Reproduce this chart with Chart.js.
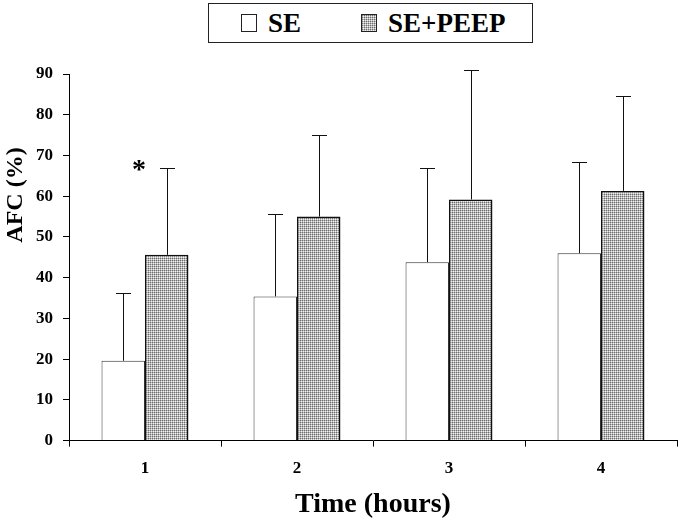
<!DOCTYPE html>
<html>
<head>
<meta charset="utf-8">
<script src="https://cdn.jsdelivr.net/npm/chart.js@4.4.1/dist/chart.umd.min.js"></script>
<style>
  body { margin: 0; background: #fff; }
  #wrap { position: relative; width: 685px; height: 525px; }
  #legend {
    position: absolute; left: 208px; top: 3px; width: 325px; height: 40px;
    box-sizing: border-box; border: 1px solid #222; background: #fff;
    display: flex; align-items: center;
    font: bold 27px "Liberation Serif", "DejaVu Serif", serif; color: #000;
  }
  #legend .sw { width: 16px; height: 18px; box-sizing: border-box; border: 1px solid #222; background: #fff; }
  #legend .txt { margin-left: 11px; line-height: 1; }
</style>
</head>
<body>
<div id="wrap">
  <canvas id="chart" width="685" height="525"></canvas>
  <div id="legend">
    <span class="sw" style="margin-left:32px"></span><span class="txt">SE</span>
    <span class="sw" id="swPeep" style="margin-left:60px"></span><span class="txt">SE+PEEP</span>
  </div>
</div>
<script>
// 数据
const categories = ['1', '2', '3', '4'];
const seMean = [19.6, 35.4, 43.8, 46.0];
const seSd = [16.7, 20.2, 23.1, 22.5];
const peepMean = [45.6, 55.0, 59.2, 61.3];
const peepSd = [21.3, 20.0, 31.8, 23.3];
const significance = ['*', '', '', ''];
const yTicks = [0, 10, 20, 30, 40, 50, 60, 70, 80, 90];

const FONT = '"Liberation Serif", "DejaVu Serif", serif';

// 点状填充
function makeStipple() {
    const c = document.createElement('canvas');
    c.width = 2; c.height = 2;
    const g = c.getContext('2d');
    g.fillStyle = '#f0f0f0'; g.fillRect(0, 0, 2, 2);
    g.fillStyle = '#b8b8b8'; g.fillRect(1, 0, 1, 1); g.fillRect(0, 1, 1, 1);
    g.fillStyle = '#6e6e6e'; g.fillRect(0, 0, 1, 1);
    return c;
}
const stippleCanvas = makeStipple();
const ctx = document.getElementById('chart').getContext('2d');
const stipple = ctx.createPattern(stippleCanvas, 'repeat');
document.getElementById('swPeep').style.background = 'url(' + stippleCanvas.toDataURL() + ')';

// 误差线 + 星号 + 纵轴标题
const extrasPlugin = {
    id: 'extras',
    afterDatasetsDraw(chart) {
        const g = chart.ctx;
        const y = chart.scales.y;
        const x = chart.scales.x;
        const sds = [seSd, peepSd];
        g.save();
        g.strokeStyle = '#111';
        g.lineWidth = 1;
        chart.data.datasets.forEach((ds, di) => {
            chart.getDatasetMeta(di).data.forEach((bar, i) => {
                const top = y.getPixelForValue(ds.data[i] + sds[di][i]);
                const bx = Math.round(bar.x) + 0.5;
                g.beginPath();
                g.moveTo(bx, bar.y);
                g.lineTo(bx, Math.round(top) + 0.5);
                g.moveTo(bx - 7.5, Math.round(top) + 0.5);
                g.lineTo(bx + 7.5, Math.round(top) + 0.5);
                g.stroke();
            });
        });
        // 显著性标记
        g.fillStyle = '#000';
        g.font = 'bold 28px ' + FONT;
        g.textAlign = 'center';
        g.textBaseline = 'alphabetic';
        significance.forEach((s, i) => {
            if (!s) return;
            const py = y.getPixelForValue(peepMean[i] + peepSd[i]);
            g.fillText(s, x.getPixelForValue(i) - 6, py + 10);
        });
        // 纵轴标题
        const a = chart.chartArea;
        g.font = 'bold 24px ' + FONT;
        g.translate(16, a.top + (a.bottom - a.top) * 0.33);
        g.rotate(-Math.PI / 2);
        g.textBaseline = 'middle';
        g.fillText('AFC (%)', 0, 0);
        g.restore();
    }
};

new Chart(ctx, {
    type: 'bar',
    data: {
        labels: categories,
        datasets: [
            {
                label: 'SE',
                data: seMean,
                backgroundColor: '#ffffff',
                borderColor: '#333',
                borderWidth: 1
            },
            {
                label: 'SE+PEEP',
                data: peepMean,
                backgroundColor: stipple,
                borderColor: '#111',
                borderWidth: 1.5
            }
        ]
    },
    options: {
        responsive: false,
        animation: false,
        layout: { padding: { top: 74, right: 8, bottom: 0, left: 0 } },
        datasets: {
            bar: { categoryPercentage: 0.572, barPercentage: 1 }
        },
        plugins: {
            legend: { display: false },
            tooltip: { enabled: false }
        },
        scales: {
            x: {
                grid: { offset: true, drawOnChartArea: false, tickLength: 6, color: '#000' },
                border: { color: '#000', width: 1 },
                ticks: { color: '#000', padding: 12, font: { family: FONT, size: 17, weight: 'bold' } },
                title: {
                    display: true, text: 'Time (hours)', color: '#000',
                    font: { family: FONT, size: 28, weight: 'bold', lineHeight: 1 },
                    padding: { top: 0, bottom: 6 }
                }
            },
            y: {
                min: 0,
                max: 90,
                afterBuildTicks: (s) => { s.ticks = yTicks.map(v => ({ value: v })); },
                afterFit: (s) => { s.width = 69; },
                grid: { drawOnChartArea: false, tickLength: 6, color: '#000' },
                border: { color: '#000', width: 1 },
                ticks: { color: '#000', padding: 10, font: { family: FONT, size: 17, weight: 'bold' } }
            }
        }
    },
    plugins: [extrasPlugin]
});
</script>
</body>
</html>
